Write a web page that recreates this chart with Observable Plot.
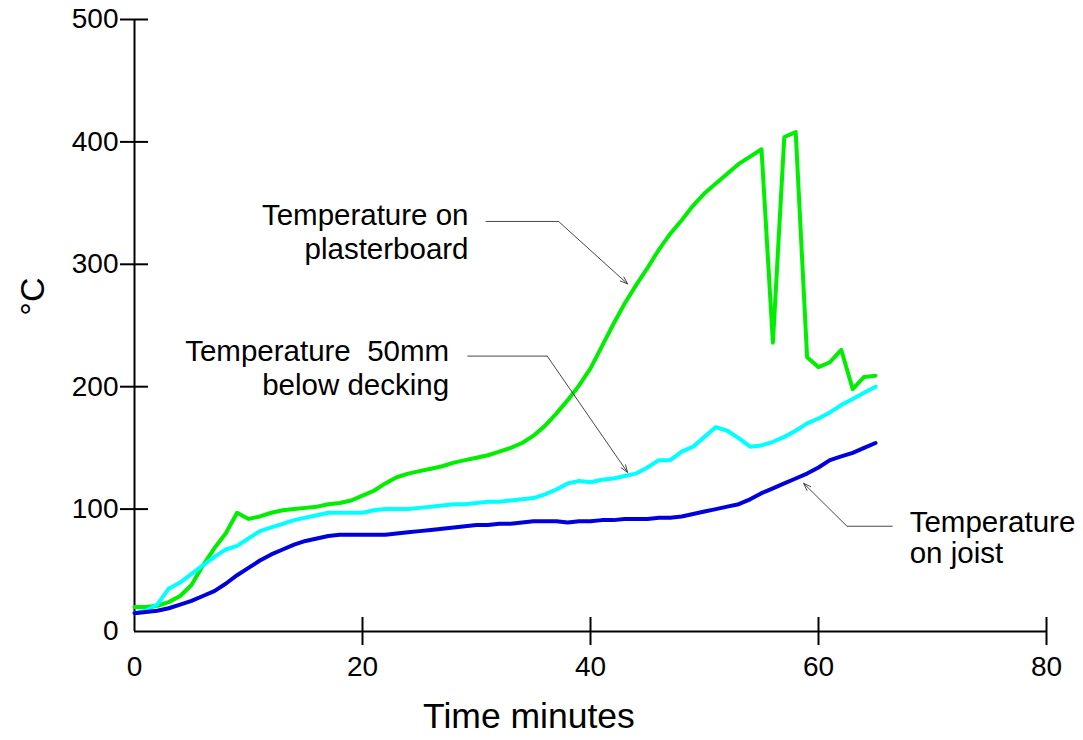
<!DOCTYPE html>
<html><head><meta charset="utf-8">
<script src="https://cdn.jsdelivr.net/npm/d3@7"></script>
<script src="https://cdn.jsdelivr.net/npm/@observablehq/plot@0.6"></script>
<style>
body{margin:0;background:#fff}
#chart svg text{white-space:pre}
</style>
</head><body><div id="chart"></div>
<script>
// ---- data ----
const minutes = [0,1,2,3,4,5,6,7,8,9,10,11,12,13,14,15,16,17,18,19,20,21,22,23,24,25,26,27,28,29,30,31,32,33,34,35,36,37,38,39,40,41,42,43,44,45,46,47,48,49,50,51,52,53,54,55,56,57,58,59,60,61,62,63,64,65];
const plasterboard = [20,20,21,24,29,38,54,68,80,97, 92,94,97,99,100,101,102,104,105,107, 111,115,121,126,129,131,133,135,138,140, 142,144,147,150,154,160,168,178,189,201, 215,233,251,268,283,297,312,325,336,348, 358,366,374,382,388,394,236,404,408,224, 216,220,230,198,208,209];
const decking = [15,17,22,35,40,47,54,61,67,70, 76,82,85,88,91,93,95,97,97,97, 97,99,100,100,100,101,102,103,104,104, 105,106,106,107,108,109,112,116,121,123, 122,124,125,127,129,134,140,140,147,151, 159,167,164,158,151,152,155,159,164,170, 174,179,185,190,195,200];
const joist = [15,16,17,19,22,25,29,33,39,46, 52,58,63,67,71,74,76,78,79,79, 79,79,79,80,81,82,83,84,85,86, 87,87,88,88,89,90,90,90,89,90, 90,91,91,92,92,92,93,93,94,96, 98,100,102,104,108,113,117,121,125,129, 134,140,143,146,150,154];

const seriesNames = ["plasterboard", "decking", "joist"];
const seriesValues = [plasterboard, decking, joist];
const seriesColors = ["#00ee00", "#00ffff", "#0000dd"];

const xTickValues = [20, 40, 60, 80];
const xLabelValues = [0, 20, 40, 60, 80];
const yTickValues = [100, 200, 300, 400, 500];
const yLabelValues = [0, 100, 200, 300, 400, 500];
const xTitle = "Time minutes";
const yTitle = "°C";

const annotationText = ["Temperature on\nplasterboard", "Temperature  50mm\nbelow decking", "Temperature\non joist"];
const annotationX = [29.3, 27.6, 68];
const annotationY = [327, 216, 77];
const annotationAnchor = ["end", "end", "start"];
const leaderX = [[30.8, 37.2, 43.25], [29.2, 36.2, 43.25], [66.5, 62.5, 58.7]];
const leaderY = [[335, 335, 284], [225, 225, 130], [86, 86, 121]];

// ---- build tables ----
const rows = [];
seriesNames.forEach((name, s) => {
  minutes.forEach((m, i) => rows.push({series: name, t: m, v: seriesValues[s][i]}));
});
const notes = annotationText.map((text, i) => ({text, x: annotationX[i], y: annotationY[i], anchor: annotationAnchor[i]}));
const leaderSegs = leaderX.map((xs, i) => ({x1: xs[0], y1: leaderY[i][0], x2: xs[1], y2: leaderY[i][1]}));
const leaderArrows = leaderX.map((xs, i) => ({x1: xs[1], y1: leaderY[i][1], x2: xs[2], y2: leaderY[i][2]}));

const font = "'Liberation Sans', Arial, Helvetica, sans-serif";

const chart = Plot.plot({
  width: 1083,
  height: 740,
  marginLeft: 134,
  marginRight: 37,
  marginTop: 19,
  marginBottom: 109,
  style: {fontFamily: font, fontSize: "28px", background: "white", color: "black"},
  x: {domain: [0, 80]},
  y: {domain: [0, 500]},
  color: {domain: seriesNames, range: seriesColors},
  marks: [
    // tick marks crossing the axis lines
    Plot.axisX({ticks: xTickValues, tickSize: 28, dy: -14, tickFormat: () => "", label: null, strokeWidth: 2}),
    Plot.axisX({ticks: xLabelValues, tickSize: 0, tickPadding: 25, label: null, fontSize: 28}),
    Plot.axisY({ticks: yTickValues, tickSize: 28, dx: 14, tickFormat: () => "", label: null, strokeWidth: 2}),
    Plot.axisY({ticks: yLabelValues, tickSize: 0, tickPadding: 16, label: null, fontSize: 28}),
    Plot.ruleY([0], {strokeWidth: 2}),
    Plot.ruleX([0], {strokeWidth: 2}),
    // series
    Plot.line(rows, {x: "t", y: "v", z: "series", stroke: "series", strokeWidth: 4, strokeLinejoin: "round"}),
    // annotations
    Plot.link(leaderSegs, {x1: "x1", y1: "y1", x2: "x2", y2: "y2", stroke: "#333", strokeWidth: 0.9}),
    Plot.arrow(leaderArrows, {x1: "x1", y1: "y1", x2: "x2", y2: "y2", stroke: "#333", strokeWidth: 0.9, headLength: 13, headAngle: 40}),
    Plot.text(notes.filter(d => d.anchor === "end"), {x: "x", y: "y", text: "text", textAnchor: "end", fontSize: 29.5, lineHeight: 1.16, fill: "black"}),
    Plot.text(notes.filter(d => d.anchor === "start"), {x: "x", y: "y", text: "text", textAnchor: "start", fontSize: 29.5, lineHeight: 1.05, fill: "black"}),
    // axis titles
    Plot.text([xTitle], {x: [34.6], frameAnchor: "bottom", dy: 96, fontSize: 35.5, fill: "black"}),
    Plot.text([yTitle], {y: [258], frameAnchor: "left", dx: -101, rotate: -90, fontSize: 34, fill: "black"})
  ]
});
document.getElementById("chart").appendChild(chart);
</script>
</body></html>
